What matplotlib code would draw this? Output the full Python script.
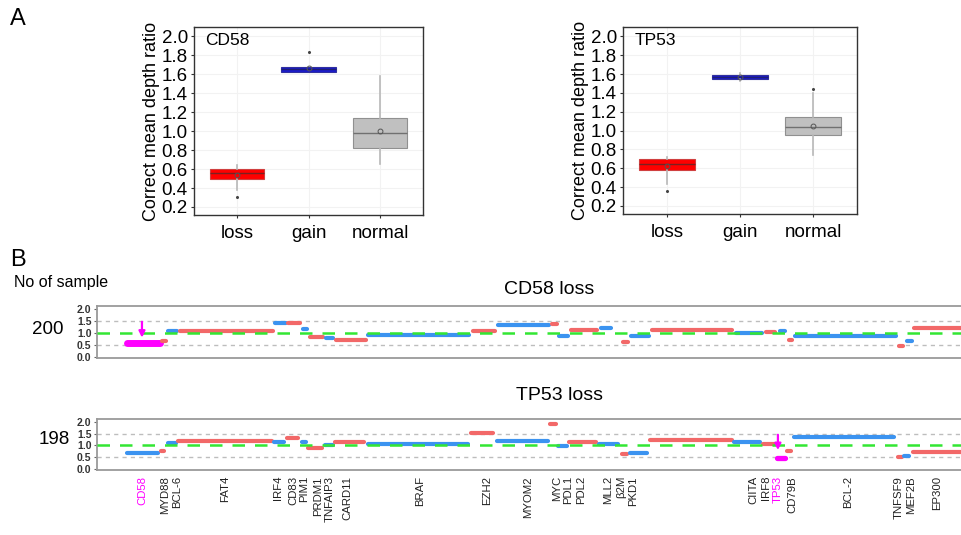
import matplotlib
matplotlib.use("Agg")
import matplotlib.pyplot as plt
import matplotlib.transforms as mtransforms

plt.rcParams["font.family"] = ["Liberation Sans", "DejaVu Sans"]

# ---- panel A: box stats ----
groups = ["loss", "gain", "normal"]
box_colors = ["#ff0000", "#1a1acc", "#c0c0c0"]
box_edges = ["#d04040", "#3030a0", "#909090"]
med_colors = ["#7a2020", "#202070", "#707070"]

cd58_q1 = [0.50, 1.63, 0.82]
cd58_med = [0.56, 1.66, 0.98]
cd58_q3 = [0.60, 1.68, 1.14]
cd58_lo = [0.38, 1.63, 0.65]
cd58_hi = [0.64, 1.68, 1.58]
cd58_mean = [0.54, 1.67, 1.00]
cd58_out = [[0.31], [1.84], []]

tp53_q1 = [0.58, 1.55, 0.95]
tp53_med = [0.65, 1.57, 1.04]
tp53_q3 = [0.70, 1.59, 1.14]
tp53_lo = [0.43, 1.53, 0.74]
tp53_hi = [0.72, 1.61, 1.40]
tp53_mean = [0.62, 1.57, 1.05]
tp53_out = [[0.36], [], [1.44]]

# ---- panel B: segments (position units along the gene axis) ----
cd58_start = [127, 162, 168, 180, 275, 288, 303, 310, 326, 336, 368, 473, 498, 552, 559, 571,
              601, 623, 631, 652, 736, 766, 780, 789, 795, 899, 907, 914]
cd58_end = [160, 166, 177, 273, 286, 300, 307, 323, 333, 366, 469, 495, 549, 557, 568, 597,
            611, 628, 649, 732, 762, 775, 785, 792, 896, 903, 912, 961]
cd58_ratio = [0.58, 0.66, 1.09, 1.07, 1.43, 1.40, 1.18, 0.83, 0.79, 0.69, 0.91, 1.06, 1.33, 1.37,
              0.86, 1.12, 1.19, 0.63, 0.88, 1.12, 0.98, 1.02, 1.06, 0.69, 0.87, 0.46, 0.66, 1.19]
cd58_col = ["m", "r", "b", "r", "b", "r", "b", "r", "b", "r", "b", "r", "b", "r",
            "b", "r", "b", "r", "b", "r", "b", "r", "b", "r", "b", "r", "b", "r"]

tp53_start = [127, 161, 168, 178, 274, 287, 302, 308, 325, 335, 368, 471, 497, 550, 558, 569,
              599, 622, 630, 650, 734, 763, 777, 787, 794, 898, 904, 913]
tp53_end = [158, 164, 176, 272, 284, 298, 306, 322, 333, 364, 468, 493, 548, 556, 567, 596,
            618, 627, 647, 732, 760, 775, 785, 791, 894, 902, 909, 961]
tp53_ratio = [0.69, 0.75, 1.09, 1.18, 1.15, 1.34, 1.15, 0.89, 1.00, 1.14, 1.07, 1.52, 1.21, 1.92,
              0.99, 1.14, 1.07, 0.61, 0.69, 1.24, 1.13, 1.07, 0.44, 0.75, 1.35, 0.49, 0.54, 0.73]
tp53_col = ["b", "r", "b", "r", "b", "r", "b", "r", "b", "r", "b", "r", "b", "r",
            "b", "r", "b", "r", "b", "r", "b", "r", "m", "r", "b", "r", "b", "r"]

genes = ["CD58", "MYD88", "BCL-6", "FAT4", "IRF4", "CD83", "PIM1", "PRDM1", "TNFAIP3", "CARD11",
         "BRAF", "EZH2", "MYOM2", "MYC", "PDL1", "PDL2", "MLL2", "β2M", "PKD1", "CIITA", "IRF8",
         "TP53", "CD79B", "BCL-2", "TNFSF9", "MEF2B", "EP300"]
gene_pos = [142, 165, 177, 225, 278, 293, 304, 318, 330, 347, 420, 487, 528, 557, 568, 581,
            608, 621, 633, 753, 766, 778, 792, 848, 899, 911, 937]
highlight = ["CD58", "TP53"]

seg_colors = {"r": "#f26868", "b": "#3b93f0", "m": "#ff00ff"}

fig = plt.figure(figsize=(9.61, 5.35), dpi=100)


def box_panel(rect, title, q1, med, q3, lo, hi, mean, out):
    ax = fig.add_axes(rect)
    stats = []
    for i in range(3):
        stats.append(dict(q1=q1[i], med=med[i], q3=q3[i], whislo=lo[i], whishi=hi[i],
                          mean=mean[i], fliers=out[i]))
    ax.grid(True, color="#f2f2f2", lw=0.8)
    ax.set_axisbelow(True)
    bp = ax.bxp(stats, positions=[1, 2, 3], widths=0.76, patch_artist=True, showmeans=True,
                showcaps=False, meanprops=dict(marker="o", markersize=3.5, markerfacecolor="none",
                                               markeredgecolor="#555555", markeredgewidth=0.7),
                flierprops=dict(marker="o", markersize=1.2, markerfacecolor="#444444",
                                markeredgecolor="#444444"),
                whiskerprops=dict(color="#b8b8b8", lw=1.2))
    for i, b in enumerate(bp["boxes"]):
        b.set_facecolor(box_colors[i])
        b.set_edgecolor(box_edges[i])
        b.set_linewidth(0.8)
        bp["medians"][i].set_color(med_colors[i])
        bp["medians"][i].set_linewidth(1.0)
    ax.set_xlim(0.4, 3.6)
    ax.set_ylim(0.115, 2.1)
    ax.set_yticks([0.2, 0.4, 0.6, 0.8, 1.0, 1.2, 1.4, 1.6, 1.8, 2.0])
    ax.set_yticklabels([f"{v:.1f}" for v in ax.get_yticks()])
    ax.set_xticks([1, 2, 3])
    ax.set_xticklabels(groups)
    ax.tick_params(labelsize=13.5, length=2.5, color="#333333")
    ax.tick_params(axis="x", pad=5)
    ax.tick_params(axis="y", pad=2)
    ax.set_ylabel("Correct mean depth ratio", fontsize=13, labelpad=1)
    for s in ax.spines.values():
        s.set_color("#333333")
        s.set_linewidth(1.0)
    ax.text(0.05, 0.93, title, transform=ax.transAxes, fontsize=12.5, va="center")
    return ax


box_panel([0.2019, 0.5981, 0.2383, 0.3514], "CD58", cd58_q1, cd58_med, cd58_q3, cd58_lo, cd58_hi,
          cd58_mean, cd58_out)
box_panel([0.6483, 0.6000, 0.2435, 0.3495], "TP53", tp53_q1, tp53_med, tp53_q3, tp53_lo, tp53_hi,
          tp53_mean, tp53_out)


def seg_panel(rect, starts, ends, ratios, cols, arrow_gene, mag_lw):
    ax = fig.add_axes(rect)
    ax.set_xlim(97, 961)
    ax.set_ylim(-0.06, 2.14)
    ax.axhline(0.5, color="#bdbdbd", lw=1.0, ls=(0, (3, 3)), zorder=1)
    ax.axhline(1.5, color="#bdbdbd", lw=1.0, ls=(0, (3, 3)), zorder=1)
    for s, e, r, c in zip(starts, ends, ratios, cols):
        lw = mag_lw if c == "m" else 3.0
        ax.plot([s, e], [r, r], color=seg_colors[c], lw=lw, solid_capstyle="round", zorder=2)
    ax.axhline(1.0, color="#33e633", lw=1.8, ls=(0, (5, 4)), zorder=3)
    gx = gene_pos[genes.index(arrow_gene)]
    ax.annotate("", xy=(gx, 0.68), xytext=(gx, 1.58),
                arrowprops=dict(arrowstyle="-|>", color="#ff00ff", lw=1.6, mutation_scale=9),
                zorder=4)
    ax.set_yticks([0.0, 0.5, 1.0, 1.5, 2.0])
    ax.set_yticklabels(["0.0", "0.5", "1.0", "1.5", "2.0"], fontsize=7.5, fontweight="bold",
                       color="#333333")
    ax.tick_params(axis="y", length=2.5, pad=1.5, color="#666666")
    ax.set_xticks([])
    for side in ["top", "bottom", "left"]:
        ax.spines[side].set_color("#9a9a9a")
        ax.spines[side].set_linewidth(1.3)
    ax.spines["right"].set_visible(False)
    return ax


ax1 = seg_panel([0.1009, 0.3308, 0.899, 0.0978], cd58_start, cd58_end, cd58_ratio, cd58_col,
                "CD58", 5.0)
ax2 = seg_panel([0.1009, 0.1215, 0.899, 0.0953], tp53_start, tp53_end, tp53_ratio, tp53_col,
                "TP53", 3.8)

# gene labels under the lower panel
trans = mtransforms.blended_transform_factory(ax2.transData, fig.transFigure)
for g, x in zip(genes, gene_pos):
    ax2.text(x, 1 - 476 / 535, g, transform=trans, rotation=90, ha="center", va="top",
             fontsize=8.2, color="#ff00ff" if g in highlight else "#222222", clip_on=False)

fig.text(10 / 961, 1 - 19 / 535, "A", fontsize=17, va="center")
fig.text(10 / 961, 1 - 260 / 535, "B", fontsize=17, va="center")
fig.text(14 / 961, 1 - 283 / 535, "No of sample", fontsize=11.5, va="center")
fig.text(549 / 961, 1 - 290 / 535, "CD58 loss", fontsize=14, ha="center", va="center")
fig.text(559 / 961, 1 - 395 / 535, "TP53 loss", fontsize=14, ha="center", va="center")
fig.text(48 / 961, 1 - 330 / 535, "200", fontsize=13.5, ha="center", va="center")
fig.text(54 / 961, 1 - 440 / 535, "198", fontsize=13.5, ha="center", va="center")

fig.savefig("out.png", dpi=100)
